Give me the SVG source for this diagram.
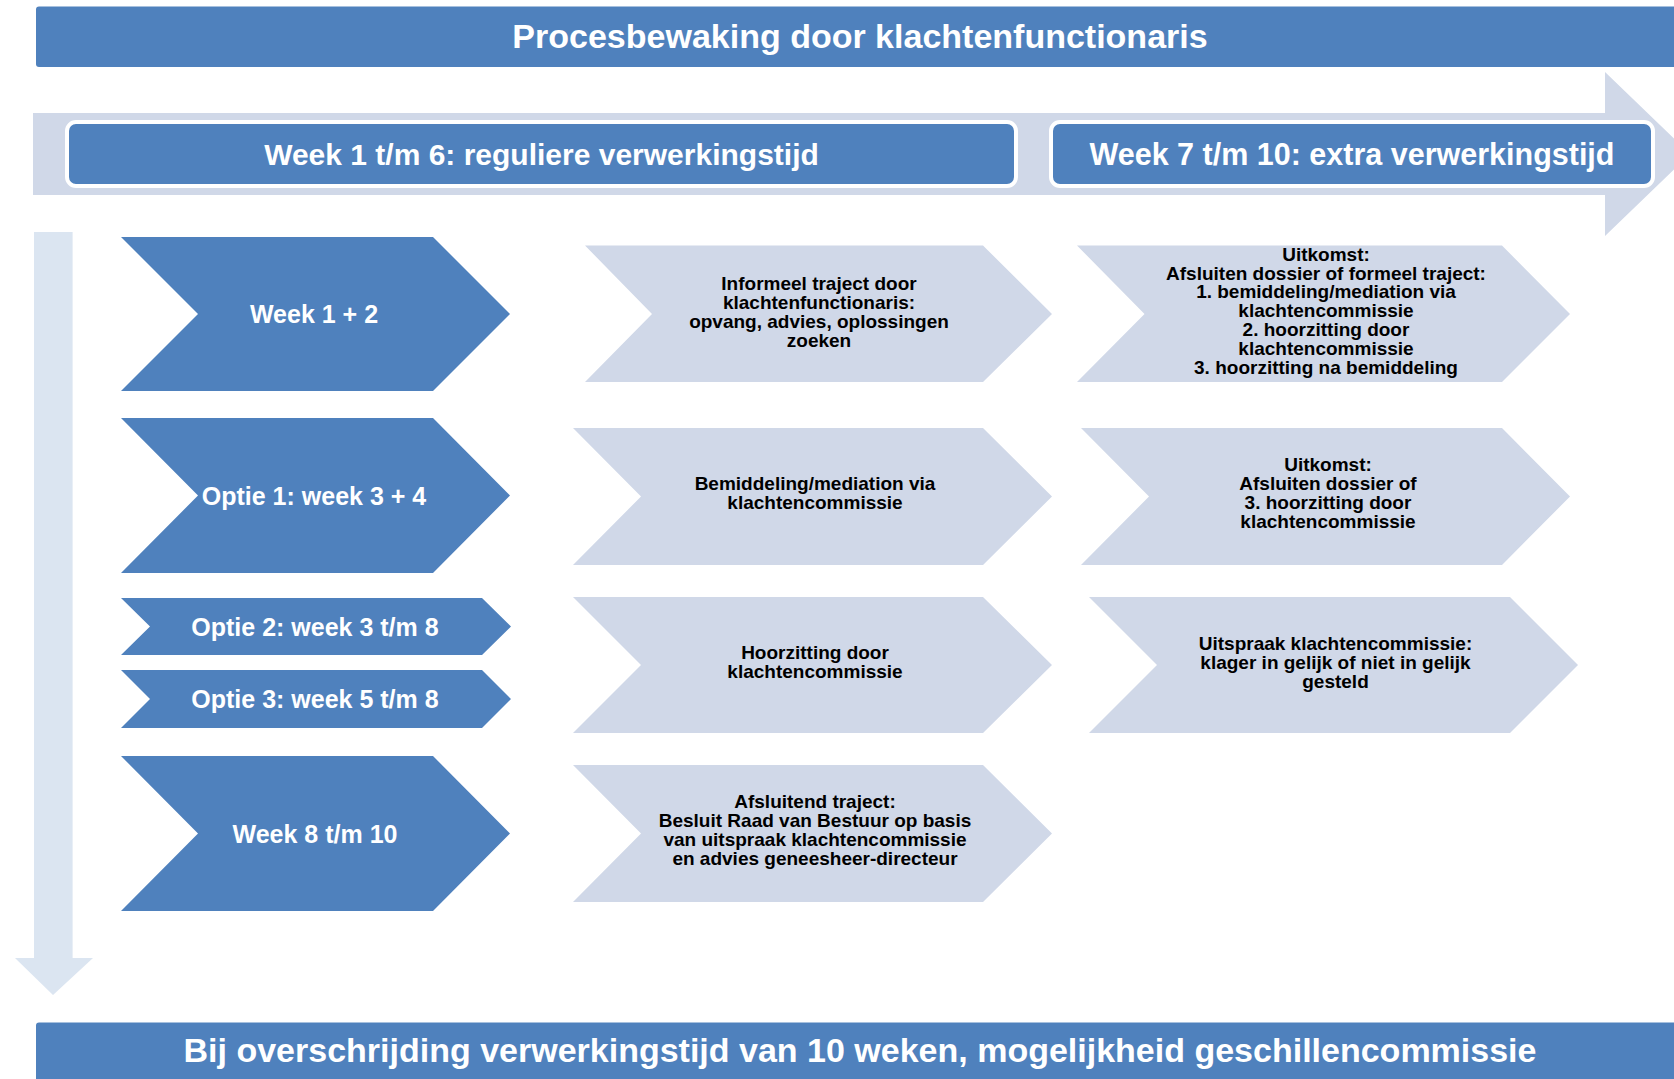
<svg xmlns="http://www.w3.org/2000/svg" width="1674" height="1079" viewBox="0 0 1674 1079">
<style>
.blue{fill:#4F81BD}
.light{fill:#D0D8E8}
.hdr{fill:#4F81BD;stroke:#FFFFFF;stroke-width:4}
.wt{fill:#FFFFFF;font-family:"Liberation Sans",Arial,sans-serif;font-weight:bold;text-anchor:middle}
.dt{fill:#000000;font-family:"Liberation Sans",Arial,sans-serif;font-weight:bold;font-size:19px;text-anchor:middle}
</style>
<rect width="1674" height="1079" fill="#FFFFFF"/>
<g id="connectors">
<polygon id="time-arrow" points="33,113 1605,113 1605,72 1690,154 1605,236 1605,195 33,195" fill="#D0D8E8"/>
<polygon id="down-arrow" points="34,232 72.6,232 72.6,958 93,958 53,995 15,958 34,958" fill="#DBE5F1"/>
</g>
<g id="title">
<rect class="blue" x="36" y="6.5" width="1648" height="60.5" rx="3"/>
<text class="wt" x="860" y="48" font-size="34">Procesbewaking door klachtenfunctionaris</text>
</g>
<g id="header-week1-6">
<rect class="hdr" x="67" y="122" width="949" height="64" rx="9"/>
<text class="wt" x="541.5" y="164.5" font-size="30">Week 1 t/m 6: reguliere verwerkingstijd</text>
</g>
<g id="header-week7-10">
<rect class="hdr" x="1051" y="122" width="602" height="64" rx="9"/>
<text class="wt" x="1352" y="164.5" font-size="30.5">Week 7 t/m 10: extra verwerkingstijd</text>
</g>
<g id="week1-2">
<polygon class="blue" points="121,237 433,237 510,314 433,391 121,391 198,314"/>
<text class="wt" x="314" y="323" font-size="25">Week 1 + 2</text>
</g>
<g id="optie1">
<polygon class="blue" points="121,418 433,418 510,495.5 433,573 121,573 198,495.5"/>
<text class="wt" x="314" y="504.5" font-size="25">Optie 1: week 3 + 4</text>
</g>
<g id="optie2">
<polygon class="blue" points="121,598 482,598 511,626.5 482,655 121,655 150,626.5"/>
<text class="wt" x="315" y="635.5" font-size="25">Optie 2: week 3 t/m 8</text>
</g>
<g id="optie3">
<polygon class="blue" points="121,670 482,670 511,699 482,728 121,728 150,699"/>
<text class="wt" x="315" y="708" font-size="25">Optie 3: week 5 t/m 8</text>
</g>
<g id="week8-10">
<polygon class="blue" points="121,756 433,756 510,833.5 433,911 121,911 198,833.5"/>
<text class="wt" x="315" y="842.5" font-size="25">Week 8 t/m 10</text>
</g>
<g id="informeel">
<polygon class="light" points="585,245.5 983,245.5 1052,314 983,382 585,382 652,314"/>
<text class="dt" x="819"><tspan x="819" y="289.5">Informeel traject door</tspan><tspan x="819" y="308.5">klachtenfunctionaris:</tspan><tspan x="819" y="327.5">opvang, advies, oplossingen</tspan><tspan x="819" y="346.5">zoeken</tspan></text>
</g>
<g id="uitkomst1">
<polygon class="light" points="1077,245.5 1502,245.5 1570,314 1502,382 1077,382 1144.5,314"/>
<text class="dt" x="1326"><tspan x="1326" y="260.5">Uitkomst:</tspan><tspan x="1326" y="279.5">Afsluiten dossier of formeel traject:</tspan><tspan x="1326" y="298">1. bemiddeling/mediation via</tspan><tspan x="1326" y="317">klachtencommissie</tspan><tspan x="1326" y="336">2. hoorzitting door</tspan><tspan x="1326" y="355">klachtencommissie</tspan><tspan x="1326" y="374">3. hoorzitting na bemiddeling</tspan></text>
</g>
<g id="bemiddeling">
<polygon class="light" points="573,428 983,428 1052,496.5 983,565 573,565 641,496.5"/>
<text class="dt" x="815"><tspan x="815" y="490">Bemiddeling/mediation via</tspan><tspan x="815" y="509">klachtencommissie</tspan></text>
</g>
<g id="uitkomst2">
<polygon class="light" points="1081,428 1502,428 1570,496.5 1502,565 1081,565 1149,496.5"/>
<text class="dt" x="1328"><tspan x="1328" y="470.5">Uitkomst:</tspan><tspan x="1328" y="489.5">Afsluiten dossier of</tspan><tspan x="1328" y="508.5">3. hoorzitting door</tspan><tspan x="1328" y="527.5">klachtencommissie</tspan></text>
</g>
<g id="hoorzitting">
<polygon class="light" points="573,597 983,597 1052,665 983,733 573,733 641,665"/>
<text class="dt" x="815"><tspan x="815" y="658.5">Hoorzitting door</tspan><tspan x="815" y="677.5">klachtencommissie</tspan></text>
</g>
<g id="uitspraak">
<polygon class="light" points="1089,597 1510,597 1578,665 1510,733 1089,733 1157,665"/>
<text class="dt" x="1335.5"><tspan x="1335.5" y="650">Uitspraak klachtencommissie:</tspan><tspan x="1335.5" y="669">klager in gelijk of niet in gelijk</tspan><tspan x="1335.5" y="688">gesteld</tspan></text>
</g>
<g id="afsluitend">
<polygon class="light" points="573,765 983,765 1052,833.5 983,902 573,902 641,833.5"/>
<text class="dt" x="815"><tspan x="815" y="808">Afsluitend traject:</tspan><tspan x="815" y="827">Besluit Raad van Bestuur op basis</tspan><tspan x="815" y="846">van uitspraak klachtencommissie</tspan><tspan x="815" y="865">en advies geneesheer-directeur</tspan></text>
</g>
<g id="footer">
<rect class="blue" x="36" y="1022.5" width="1648" height="70" rx="3"/>
<text class="wt" x="860" y="1062" font-size="34">Bij overschrijding verwerkingstijd van 10 weken, mogelijkheid geschillencommissie</text>
</g>
</svg>
